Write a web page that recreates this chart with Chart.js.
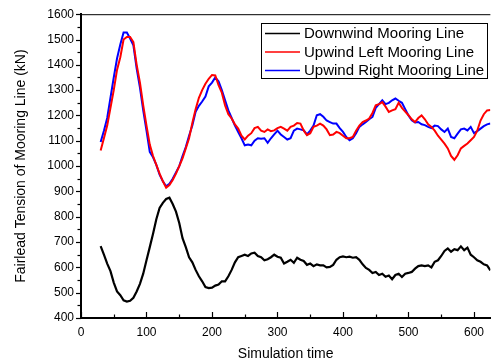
<!DOCTYPE html>
<html>
<head>
<meta charset="utf-8">
<script src="https://cdn.jsdelivr.net/npm/chart.js@4.4.1/dist/chart.umd.min.js"></script>
<style>
html,body{margin:0;padding:0;background:#fff;}
#wrap{width:491px;height:363px;position:relative;}
</style>
</head>
<body>
<div id="wrap"><canvas id="c" width="491" height="363"></canvas></div>
<script>
const times = [
  30,35,40,45,50,55,60,65,70,75,
  80,85,90,95,100,105,110,115,120,125,
  130,135,140,145,150,155,160,165,170,175,
  180,185,190,195,200,205,210,215,220,225,
  230,235,240,245,250,255,260,265,270,275,
  280,285,290,295,300,305,310,315,320,325,
  330,335,340,345,350,355,360,365,370,375,
  380,385,390,395,400,405,410,415,420,425,
  430,435,440,445,450,455,460,465,470,475,
  480,485,490,495,500,505,510,515,520,525,
  530,535,540,545,550,555,560,565,570,575,
  580,585,590,595,600,605,610,615,620,625
];
const downwind = [
  684,650,615,585,540,505,490,470,465,468,
  480,505,535,575,628,680,733,790,835,855,
  870,875,850,820,775,715,680,640,620,590,
  565,545,522,518,520,528,532,545,545,565,
  590,620,640,645,650,645,655,658,645,640,
  628,632,640,650,642,638,615,622,630,618,
  638,630,625,610,615,605,612,608,608,600,
  602,610,630,640,643,640,642,638,640,630,
  612,598,590,578,582,570,575,563,568,553,
  570,575,562,575,578,582,595,605,608,605,
  608,600,622,628,645,665,675,662,672,668,
  683,668,678,650,640,628,622,612,608,588
];
const upwindLeft = [
  1062,1110,1160,1230,1300,1380,1430,1500,1510,1510,
  1490,1400,1330,1240,1160,1085,1040,1005,970,940,
  915,925,945,970,1000,1030,1070,1110,1170,1225,
  1270,1300,1325,1345,1360,1358,1320,1290,1240,1205,
  1188,1165,1148,1120,1105,1120,1130,1150,1155,1140,
  1135,1145,1138,1141,1150,1155,1148,1140,1155,1160,
  1170,1168,1141,1122,1130,1155,1160,1168,1160,1145,
  1122,1125,1135,1130,1120,1110,1110,1115,1140,1160,
  1174,1180,1188,1210,1240,1245,1253,1235,1214,1220,
  1225,1250,1230,1215,1201,1185,1174,1190,1200,1185,
  1165,1155,1140,1120,1105,1089,1070,1040,1025,1043,
  1070,1080,1089,1102,1115,1140,1180,1205,1220,1222
];
const upwindRight = [
  1095,1140,1190,1270,1350,1425,1480,1528,1528,1504,
  1477,1385,1310,1220,1140,1056,1035,1005,966,940,
  920,930,950,975,1000,1040,1075,1120,1160,1215,
  1238,1255,1275,1315,1330,1350,1335,1300,1260,1220,
  1190,1160,1135,1110,1082,1085,1082,1100,1110,1108,
  1110,1092,1110,1125,1140,1125,1115,1105,1110,1140,
  1148,1145,1141,1125,1140,1160,1201,1205,1195,1180,
  1174,1168,1168,1150,1135,1115,1102,1110,1130,1155,
  1165,1174,1185,1194,1230,1245,1260,1245,1250,1260,
  1267,1258,1250,1225,1200,1181,1172,1174,1165,1162,
  1155,1150,1160,1158,1145,1135,1148,1115,1110,1128,
  1145,1148,1141,1155,1130,1138,1148,1158,1165,1168
];
const seriesNames = ['Downwind Mooring Line','Upwind Left Mooring Line','Upwind Right Mooring Line'];
const seriesColors = ['#000000','#ff0000','#0000ff'];
const xTickValues = [0,100,200,300,400,500,600];
const yTickValues = [400,500,600,700,800,900,1000,1100,1200,1300,1400,1500,1600];

const toPts = vals => times.map((t,i)=>({x:t,y:vals[i]}));
const allSeries = [downwind, upwindLeft, upwindRight];

const FONT = 'Liberation Sans, Arial, sans-serif';

const decor = {
  id:'decor',
  afterDraw(chart){
    const ctx = chart.ctx, a = chart.chartArea;
    const xs = chart.scales.x, ys = chart.scales.y;
    ctx.save();
    ctx.strokeStyle = '#000';
    ctx.lineWidth = 1;
    ctx.beginPath(); ctx.moveTo(a.left, a.top+0.5); ctx.lineTo(a.right, a.top+0.5); ctx.stroke();
    ctx.lineWidth = 1.2;
    for (let v = 0; v <= xs.max; v += 50) {
      const px = Math.round(xs.getPixelForValue(v)) + 0.5;
      const len = (v % 100 === 0) ? 6 : 3.5;
      ctx.beginPath(); ctx.moveTo(px, a.bottom); ctx.lineTo(px, a.bottom - len); ctx.stroke();
    }
    for (let v = ys.min; v <= ys.max; v += 50) {
      const py = Math.round(ys.getPixelForValue(v)) + 0.5;
      const len = (v % 100 === 0) ? 5 : 3.5;
      ctx.beginPath(); ctx.moveTo(a.left, py); ctx.lineTo(a.left - len, py); ctx.stroke();
    }
    const bx = 261, by = 23, bw = 226, bh = 55;
    ctx.fillStyle = '#fff';
    ctx.fillRect(bx, by, bw, bh);
    ctx.lineWidth = 1;
    ctx.strokeRect(bx+0.5, by+0.5, bw, bh);
    ctx.font = '15px ' + FONT;
    ctx.textBaseline = 'middle';
    chart.data.datasets.forEach((ds, i) => {
      const cy = by + 10.5 + i * 18.5;
      ctx.strokeStyle = ds.borderColor;
      ctx.lineWidth = 1.5;
      ctx.beginPath(); ctx.moveTo(bx + 4, cy); ctx.lineTo(bx + 39, cy); ctx.stroke();
      ctx.fillStyle = '#000';
      ctx.fillText(ds.label, bx + 43, cy + 0.5);
    });
    ctx.restore();
  }
};

new Chart(document.getElementById('c'), {
  type:'line',
  data:{
    datasets: allSeries.map((vals,i)=>({
      label: seriesNames[i],
      data: toPts(vals),
      borderColor: seriesColors[i],
      backgroundColor: seriesColors[i],
      borderWidth: i === 0 ? 2.2 : 2,
      pointRadius: 0,
      tension: 0,
      fill: false
    }))
  },
  options:{
    responsive:false,
    animation:false,
    events:[],
    layout:{padding:{top:14,right:0,left:0,bottom:0}},
    plugins:{legend:{display:false},tooltip:{enabled:false},title:{display:false}},
    scales:{
      x:{
        type:'linear', min:0, max:625,
        afterBuildTicks: s => { s.ticks = xTickValues.map(v=>({value:v})); },
        afterFit: s => { s.height = 45; },
        grid:{display:false, drawTicks:false},
        border:{display:true, color:'#000', width:2},
        ticks:{color:'#000', font:{family:FONT, size:12}, padding:7, maxRotation:0, autoSkip:false, callback: v => String(v)},
        title:{display:true, text:'Simulation time', color:'#000', font:{family:FONT, size:14}, padding:{top:4,bottom:0}}
      },
      y:{
        type:'linear', min:400, max:1600,
        afterBuildTicks: s => { s.ticks = yTickValues.map(v=>({value:v})); },
        afterFit: s => { s.width = 81; },
        grid:{display:false, drawTicks:false},
        border:{display:true, color:'#000', width:2},
        ticks:{color:'#000', font:{family:FONT, size:12}, padding:7, autoSkip:false, callback: v => String(v)},
        title:{display:true, text:'Fairlead Tension of Mooring Line (kN)', color:'#000', font:{family:FONT, size:14}, padding:{top:13,bottom:4}}
      }
    }
  },
  plugins:[decor]
});
</script>
</body>
</html>
